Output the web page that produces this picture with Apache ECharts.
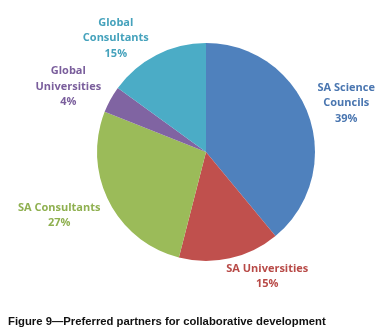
<!DOCTYPE html>
<html><head><meta charset="utf-8">
<script src="https://cdn.jsdelivr.net/npm/echarts@6/dist/echarts.min.js"></script>
<style>html,body{margin:0;padding:0;background:#fff}#c{width:385px;height:333px}</style>
</head><body><div id="c"></div>
<script>
const categories = ['SA Science\nCouncils', 'SA Universities', 'SA Consultants', 'Global\nUniversities', 'Global\nConsultants'];
const values = [39, 15, 27, 4, 15];
const colors = ['#4F81BD', '#C0504D', '#9BBB59', '#8064A2', '#4BACC6'];
const labelColors = ['#4A76B0', '#B84A47', '#8FB050', '#7A5E9C', '#45A2BC'];
const title = 'Figure 9\u2014Preferred partners for collaborative development';

const CX = 206, CY = 152, R = 109, LABEL_DIST = 148;
// per-label nudges from the radial position (Excel best-fit placement)
const nudges = [[1, 1], [29, -20], [-15, -4], [-8, 6], [-23, 18]];
const total = values.reduce((a, b) => a + b, 0);
const mids = [];
{ let acc = 0; values.forEach(v => { mids.push((acc + v / 2) / total); acc += v; }); }

const chart = echarts.init(document.getElementById('c'), null, {renderer: 'canvas'});
chart.setOption({
  animation: false,
  series: [{
    type: 'pie',
    center: [CX, CY],
    radius: R,
    startAngle: 90,
    clockwise: true,
    label: {
      show: true,
      position: 'outside',
      formatter: p => p.name + '\n' + p.value + '%',
      fontFamily: 'Open Sans',
      fontWeight: 'bold',
      fontSize: 11,
      lineHeight: 15.5,
      overflow: 'none'
    },
    labelLine: {show: false},
    labelLayout: p => {
      const i = p.dataIndex;
      const a = Math.PI / 2 - mids[i] * 2 * Math.PI;
      return {
        x: CX + LABEL_DIST * Math.cos(a) + nudges[i][0],
        y: CY - LABEL_DIST * Math.sin(a) + nudges[i][1],
        align: 'center', verticalAlign: 'middle'
      };
    },
    itemStyle: {borderWidth: 0},
    data: categories.map((c, i) => ({
      name: c, value: values[i],
      itemStyle: {color: colors[i]},
      label: {color: labelColors[i]}
    }))
  }],
  graphic: [{
    type: 'text', left: 8, top: 316,
    style: {text: title, font: 'bold 11.3px "Liberation Sans", Arial', fill: '#111'}
  }]
});
</script></body></html>
